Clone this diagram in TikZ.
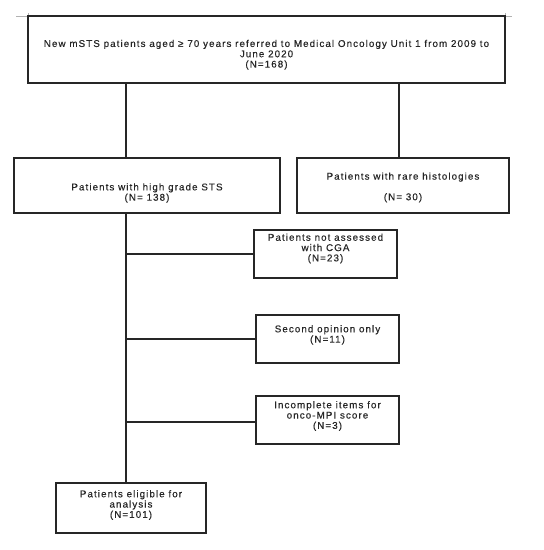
\documentclass[tikz,border=0pt]{standalone}
\usepackage{fontspec}
\setmainfont{Liberation Sans}[LetterSpace=11,FakeBold=0.3]
\begin{document}
\begin{tikzpicture}[x=1pt,y=-1pt,
  box/.style={draw=black!85, line width=1.3pt, fill=white, inner sep=0pt},
  txt/.style={font=\fontsize{9.8}{10.3}\selectfont, text=black!85, align=center, inner sep=0pt},
  link/.style={draw=black!85, line width=1.3pt},
  cornermark/.style={draw=black!30, line width=0.5pt}]
\useasboundingbox (0,0) rectangle (544,550);
% page corner marks
\draw[cornermark] (16,16) -- (28,16) (28,13) -- (28,16);
\draw[cornermark] (505,13) -- (505,16) (505,16) -- (512,16);
% boxes
\node[box, minimum width=477pt, minimum height=67pt] (top) at (266.5,49.5) {};
\node[box, minimum width=266pt, minimum height=55pt] (high) at (147,185.5) {};
\node[box, minimum width=212pt, minimum height=55pt] (rare) at (403,185.5) {};
\node[box, minimum width=143pt, minimum height=48pt] (na) at (325.5,254) {};
\node[box, minimum width=143pt, minimum height=48pt] (so) at (327.5,339) {};
\node[box, minimum width=143pt, minimum height=48pt] (inc) at (327.5,420) {};
\node[box, minimum width=150pt, minimum height=50pt] (elig) at (131,508) {};
% texts
\node[txt] (ttop) at (266.5,54.7) {New mSTS patients aged ≥ 70 years referred to Medical Oncology Unit 1 from 2009 to\\June 2020\\(N=168)};
\node[txt] (thigh) at (147,193) {Patients with high grade STS\\(N= 138)};
\node[txt] (trare) at (403,187.4) {Patients with rare histologies\\[10.3pt](N= 30)};
\node[txt] (tna) at (325.5,248.5) {Patients not assessed\\with CGA\\(N=23)};
\node[txt] (tso) at (327.5,334.9) {Second opinion only\\(N=11)};
\node[txt] (tinc) at (327.5,416) {Incomplete items for\\onco-MPI score\\(N=3)};
\node[txt] (telig) at (131,505) {Patients eligible for\\analysis\\(N=101)};
% connectors
\coordinate (xa) at (126,0);
\coordinate (xb) at (399,0);
\draw[link] (top.south -| xa) -- (high.north -| xa);
\draw[link] (top.south -| xb) -- (rare.north -| xb);
\draw[link] (high.south -| xa) -- (elig.north -| xa);
\draw[link] (xa |- na.west) -- (na.west);
\draw[link] (xa |- so.west) -- (so.west);
\draw[link] ([yshift=-2pt]xa |- inc.west) -- ([yshift=-2pt]inc.west);
\end{tikzpicture}
\end{document}
